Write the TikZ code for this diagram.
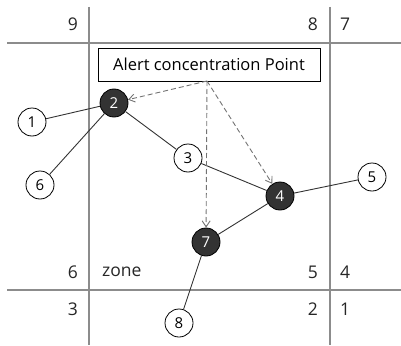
\documentclass[tikz,border=0pt]{standalone}
\usepackage{fontspec}
\setmainfont{Open Sans}
\usetikzlibrary{arrows.meta}
\begin{document}
\begin{tikzpicture}[x=1pt,y=-1pt,
  gridline/.style={draw=black!45,line width=2pt},
  zonelabel/.style={font=\fontsize{17.5}{20}\selectfont,text=black!85,inner sep=0pt},
  opennode/.style={circle,draw=black,fill=white,line width=0.8pt,minimum size=28pt,inner sep=0pt,font=\fontsize{15}{17}\selectfont},
  darknode/.style={circle,draw=black,fill=black!80,text=white,line width=0.8pt,minimum size=28pt,inner sep=0pt,font=\fontsize{15}{17}\selectfont},
  link/.style={draw=black!80,line width=0.9pt},
  alertarrow/.style={draw=black!55,line width=0.9pt,dashed,dash pattern=on 5pt off 3pt,-{Straight Barb[length=6pt,width=8pt]}}]
\useasboundingbox (0,0) rectangle (401,345);
% zone grid
\draw[gridline] (89,7) -- (89,345);
\draw[gridline] (330,7) -- (330,345);
\draw[gridline] (7,43) -- (401,43);
\draw[gridline] (7,290) -- (401,290);
% zone numbers
\node[zonelabel,anchor=east] (z9) at (78,24) {9};
\node[zonelabel,anchor=east] (z8) at (318,24) {8};
\node[zonelabel,anchor=west] (z7) at (340,24) {7};
\node[zonelabel,anchor=east] (z6) at (78,272) {6};
\node[zonelabel,anchor=west] (zone) at (102,272) {zone};
\node[zonelabel,anchor=east] (z5) at (318,272) {5};
\node[zonelabel,anchor=west] (z4) at (340,272) {4};
\node[zonelabel,anchor=east] (z3) at (78,309) {3};
\node[zonelabel,anchor=east] (z2) at (318,309) {2};
\node[zonelabel,anchor=west] (z1) at (340,309) {1};
% alert box
\node[draw=black,line width=0.9pt,fill=white,minimum width=222pt,minimum height=33pt,inner sep=0pt,font=\fontsize{16.5}{19}\selectfont] (alert) at (209,64.5) {Alert concentration Point};
\coordinate (src) at (207,81);
% nodes
\node[darknode] (n2) at (114,103) {2};
\node[opennode] (n1) at (32,122) {1};
\node[opennode] (n6) at (40,185) {6};
\node[opennode] (n3) at (188,158) {3};
\node[darknode] (n4) at (280,196) {4};
\node[opennode] (n5) at (372,177) {5};
\node[darknode] (n7) at (206,242) {7};
\node[opennode] (n8) at (179,323) {8};
% links
\draw[link] (n1) -- (n2);
\draw[link] (n6) -- (n2);
\draw[link] (n2) -- (n3);
\draw[link] (n3) -- (n4);
\draw[link] (n4) -- (n5);
\draw[link] (n4) -- (n7);
\draw[link] (n7) -- (n8);
% alert arrows
\draw[alertarrow] (src) -- (n2);
\draw[alertarrow] (src) -- (n7);
\draw[alertarrow] (src) -- (n4);
\end{tikzpicture}
\end{document}
